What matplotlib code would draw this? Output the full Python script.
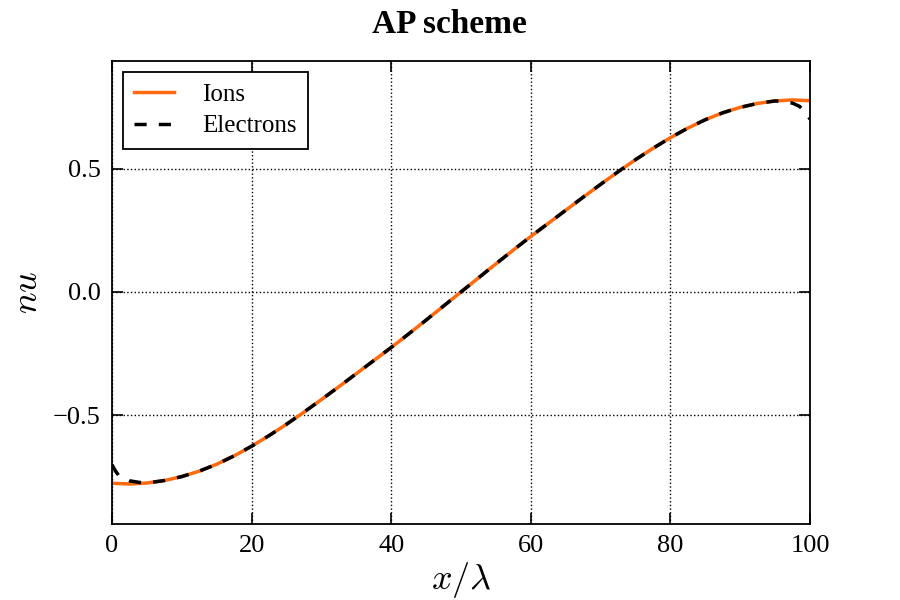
import matplotlib
matplotlib.use("Agg")
import matplotlib.pyplot as plt

# values
x_ions = [0, 2.5, 5, 7.5, 10, 12.5, 15, 17.5, 20, 22.5, 25, 27.5, 30, 32.5, 35,
          37.5, 40, 42.5, 45, 47.5, 50, 52.5, 55, 57.5, 60, 62.5, 65, 67.5, 70,
          72.5, 75, 77.5, 80, 82.5, 85, 87.5, 90, 92.5, 95, 97.5, 100]
nu_ions = [-0.775, -0.778, -0.774, -0.764, -0.748, -0.726, -0.698, -0.664, -0.625,
           -0.582, -0.536, -0.487, -0.436, -0.384, -0.331, -0.278, -0.225, -0.170,
           -0.114, -0.057, 0.0, 0.057, 0.114, 0.170, 0.225, 0.278, 0.331, 0.384,
           0.436, 0.487, 0.536, 0.582, 0.625, 0.664, 0.698, 0.726, 0.748, 0.764,
           0.774, 0.778, 0.775]

x_elec = [0, 0.5, 1, 2.5, 4, 5, 7.5, 10, 12.5, 15, 17.5, 20, 22.5, 25, 27.5, 30,
          32.5, 35, 37.5, 40, 42.5, 45, 47.5, 50, 52.5, 55, 57.5, 60, 62.5, 65,
          67.5, 70, 72.5, 75, 77.5, 80, 82.5, 85, 87.5, 90, 92.5, 95, 96, 97.5,
          98.5, 99.5, 100]
nu_elec = [-0.700, -0.725, -0.745, -0.765, -0.772, -0.774, -0.764, -0.748, -0.726,
           -0.698, -0.664, -0.625, -0.582, -0.536, -0.487, -0.436, -0.384, -0.331,
           -0.278, -0.225, -0.170, -0.114, -0.057, 0.0, 0.057, 0.114, 0.170, 0.225,
           0.278, 0.331, 0.384, 0.436, 0.487, 0.536, 0.582, 0.625, 0.664, 0.698,
           0.726, 0.748, 0.764, 0.774, 0.772, 0.765, 0.752, 0.725, 0.700]

plt.rcParams['font.family'] = ['Liberation Serif', 'DejaVu Serif']
plt.rcParams['mathtext.fontset'] = 'cm'

fig = plt.figure(figsize=(9, 6), dpi=100)
ax = fig.add_axes([0.1244, 0.1267, 0.7756, 0.7713])

ax.plot(x_ions, nu_ions, color='#ff6a0f', lw=2.5, label='Ions')
ax.plot(x_elec, nu_elec, color='black', lw=2.5, ls=(0, (3.5, 3.5)), label='Electrons')

ax.set_xlim(0, 100)
ax.set_ylim(-0.94, 0.935)
ax.set_xticks([0, 20, 40, 60, 80, 100])
ax.set_yticks([-0.5, 0.0, 0.5])
ax.tick_params(direction='in', top=True, right=True, length=8, width=1.2,
               labelsize=19, pad=8)
for s in ax.spines.values():
    s.set_linewidth(1.3)
ax.grid(True, color='black', linestyle=':', linewidth=1)

# title sits centred on the figure, not on the axes
ax.set_title('AP scheme', fontsize=24, fontweight='bold', pad=20, x=0.484)
ax.set_xlabel(r'$x/\lambda$', fontsize=26, labelpad=2)
ax.set_ylabel(r'$nu$', fontsize=26, labelpad=6)

leg = ax.legend(loc='upper left', fontsize=18, fancybox=False, framealpha=1,
                edgecolor='black', handlelength=1.6, handletextpad=1.1,
                borderpad=0.45, labelspacing=0.35, borderaxespad=0.45)
leg.get_frame().set_linewidth(1.3)

fig.savefig('out.png', dpi=100)
